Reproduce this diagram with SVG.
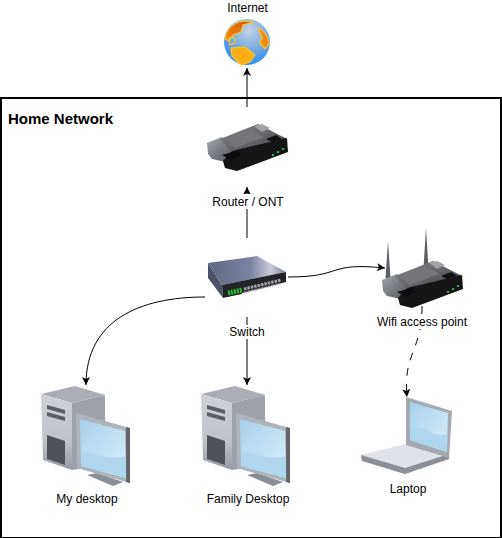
<svg xmlns="http://www.w3.org/2000/svg" xmlns:xlink="http://www.w3.org/1999/xlink" width="502" height="538" viewBox="0 0 502 538">
<style>
text{font-family:"Liberation Sans",Arial,sans-serif;font-size:12px;fill:#000;text-anchor:middle}
.title{font-size:15px;font-weight:bold;text-anchor:start}
.edge{fill:none;stroke:#000;stroke-width:1}
.bg{fill:#fff}
.coast{stroke:#fcc62c;stroke-width:1.2;stroke-linejoin:round}
</style>
<defs>
<marker id="arrow" markerUnits="userSpaceOnUse" markerWidth="10" markerHeight="10" refX="8" refY="4.5" orient="auto"><path d="M0 0.5L8 4.5L0 8.5L2 4.5Z" fill="#000"/></marker>
<radialGradient id="ocean" cx="0.55" cy="0.25" r="0.85"><stop offset="0" stop-color="#c4d3e4"/><stop offset="0.5" stop-color="#77a9de"/><stop offset="1" stop-color="#0f86fa"/></radialGradient>
<linearGradient id="land" x1="0" y1="0" x2="0" y2="1"><stop offset="0" stop-color="#d85d0c"/><stop offset="1" stop-color="#f08d12"/></linearGradient>
<linearGradient id="rtop" x1="0" y1="0" x2="1" y2="1"><stop offset="0" stop-color="#85878c"/><stop offset="0.6" stop-color="#5d5f63"/><stop offset="1" stop-color="#2a2b2e"/></linearGradient>
<linearGradient id="rblock" x1="0" y1="0" x2="1" y2="1"><stop offset="0" stop-color="#a2a5ab"/><stop offset="1" stop-color="#4d5057"/></linearGradient>
<linearGradient id="swtop" x1="0" y1="0" x2="1" y2="0"><stop offset="0" stop-color="#5f6a84"/><stop offset="0.55" stop-color="#7b84a0"/><stop offset="0.8" stop-color="#c9ccd7"/><stop offset="1" stop-color="#7a8094"/></linearGradient>
<linearGradient id="screen" x1="0" y1="0" x2="1" y2="1"><stop offset="0" stop-color="#a6d0ea"/><stop offset="1" stop-color="#dceff8"/></linearGradient>
<linearGradient id="tower" x1="0" y1="0" x2="0" y2="1"><stop offset="0" stop-color="#cfd2d7"/><stop offset="0.6" stop-color="#bfc2c9"/><stop offset="1" stop-color="#979ba5"/></linearGradient>
<g id="router">
<path d="M207 143L222 137L236 150L226 162L212 159L208 154Z" fill="url(#rblock)"/>
<path d="M220 139L258 124L287 139L232 153Z" fill="url(#rtop)"/>
<path d="M224 139L250 129L264 137L235 148Z" fill="#74767b"/>
<path d="M254 126L262 124L270 128L262 132Z" fill="#a0a3a8"/>
<path d="M223 161L232 151L287 138L288 152L237 171L225 168Z" fill="#151517"/>
<path d="M222 155L236 151L241 155L231 160Z" fill="#0b0b0c"/>
<path d="M266 139L276 135L282 139L272 142Z" fill="#111"/>
<circle cx="273" cy="155" r="1.1" fill="#35d64a"/><circle cx="278" cy="152" r="1.1" fill="#35d64a"/><circle cx="283" cy="149" r="1.1" fill="#35d64a"/>
</g>
<g id="computer">
<path d="M41 394L75 386L105 395L72 403Z" fill="#a9adb5"/>
<path d="M41 394L72 403L72 470L43 460Z" fill="url(#tower)"/>
<path d="M72 403L105 395L105 465L72 470Z" fill="#9da1a9"/>
<path d="M47 405L65 410L65 414L47 409ZM47 412L65 417L65 421L47 416Z" fill="#5b5e66"/>
<path d="M47 435L65 441L65 465L47 459Z" fill="#4f5258"/>
<path d="M87 475L97 473L123 482L113 486Z" fill="#8a8e96"/>
<path d="M76 413L130 428L130 483L77 468Z" fill="#aeb2b9"/>
<path d="M126 427L130 428L130 483L126 482Z" fill="#63666d"/>
<path d="M80 419L125 431L126 478L81 466Z" fill="url(#screen)"/>
<path d="M81 452C95 450 105 462 126 456L126 478L81 466Z" fill="#aed7ee"/>
</g>
</defs>
<rect x="1" y="98" width="500" height="440" fill="#fff" stroke="#000" stroke-width="2"/>
<g id="connectors">
<path class="edge" d="M247 107V68" marker-end="url(#arrow)"/>
<path class="edge" d="M247 238V187" marker-end="url(#arrow)"/>
<path class="edge" d="M205 297C140 297 86 320 86 385" marker-end="url(#arrow)"/>
<path class="edge" d="M247 317V385" marker-end="url(#arrow)"/>
<path class="edge" d="M288 277C345 277 325 262 385 268" marker-end="url(#arrow)"/>
<path class="edge" d="M422 306C422 352 403 352 407 397" stroke-dasharray="8 8" marker-end="url(#arrow)"/>
</g>
<g id="frame-label"><text class="title" x="8" y="124">Home Network</text></g>
<g id="internet">
<text x="247.500" y="12">Internet</text>
<circle cx="247" cy="42" r="23" fill="url(#ocean)"/>
<path class="coast" d="M225 39C226 30 233 23 243 21L254 22L243 25L241 32L233 35L229 41Z" fill="url(#land)"/>
<path class="coast" d="M258 28C265 31 269 38 269 44L265 49L260 43L262 37Z" fill="#ec8a12"/>
<path class="coast" d="M231 48L245 47L255 55L250 62L241 65L232 56Z" fill="#fbae16"/>
<path class="coast" d="M229 38L234 37L235 43L230 45Z" fill="none"/>
</g>
<g id="router-ont">
<use xlink:href="#router" href="#router"/>
<rect class="bg" x="212" y="194" width="72" height="15"/>
<text x="248" y="206">Router / ONT</text>
</g>
<g id="switch">
<path d="M208 263L222 285L223 298L208 278Z" fill="#4d5367"/>
<path d="M208 263L257 256L286 272L222 285Z" fill="url(#swtop)"/>
<path d="M222 285L286 272L286 282L223 298Z" fill="#222428"/>
<path d="M227 290L242 287L242 294L227 297Z" fill="#1d1f1d"/>
<path d="M228 293L242 290" stroke="#2fbf35" stroke-width="5" stroke-dasharray="2 1" fill="none"/>
<path d="M244 289L281 280" stroke="#a3a6aa" stroke-width="3" stroke-dasharray="2.500 1" fill="none"/>
<path d="M244 292.500L281 283.500" stroke="#a3a6aa" stroke-width="2" stroke-dasharray="2.500 1" fill="none" opacity="0.7"/>
<rect class="bg" x="227" y="325" width="40" height="14"/>
<text x="247" y="336">Switch</text>
</g>
<g id="wifi">
<path d="M388 241L385.500 278H390.500ZM426 228L423.500 268H428.500Z" fill="#5c5f65"/>
<use xlink:href="#router" href="#router" transform="translate(175 137)"/>
<rect class="bg" x="376" y="315" width="93" height="14"/>
<text x="422" y="326">Wifi access point</text>
</g>
<g id="my-desktop">
<use xlink:href="#computer" href="#computer"/>
<text x="87" y="503">My desktop</text>
</g>
<g id="family-desktop">
<use xlink:href="#computer" href="#computer" transform="translate(160 0)"/>
<text x="248" y="503">Family Desktop</text>
</g>
<g id="laptop">
<path d="M361 455L406 444L449 459L405 474L362 460Z" fill="#dfe2e8"/>
<path d="M361 455L405 468L449 454L449 459L405 474L362 461Z" fill="#8b8f97"/>
<path d="M406 397L452 411L449 458L406 445Z" fill="#a4a8b0"/>
<path d="M410 402L448 413L447 452L410 440Z" fill="url(#screen)"/>
<path d="M410 428C425 425 432 438 447 434L447 452L410 440Z" fill="#aed7ee"/>
<text x="408" y="493">Laptop</text>
</g>
</svg>
